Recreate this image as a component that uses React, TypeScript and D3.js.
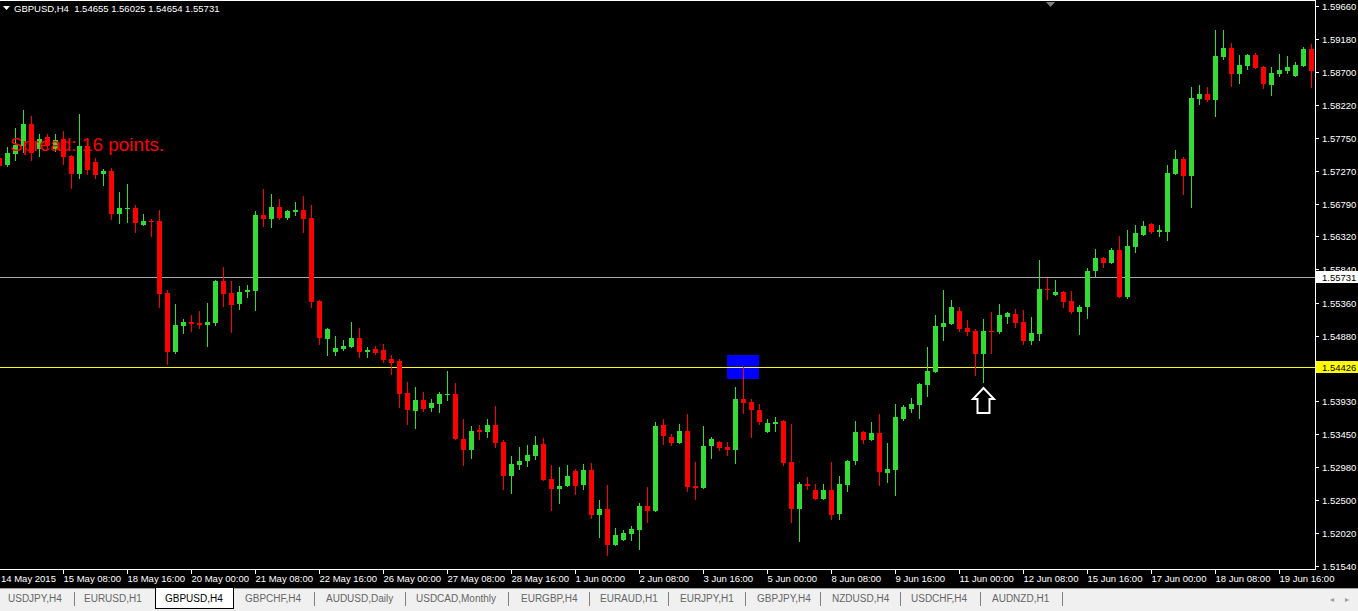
import React, { useEffect } from "react";
import * as d3 from "d3";

// ---- DATA (GBPUSD, H4) ----
const opens = [1.57457,1.57355,1.57515,1.57631,1.57950,1.57587,1.57761,1.57587,1.57732,1.57486,1.57225,1.57631,1.57399,1.57225,1.57268,1.56645,1.56717,1.56732,1.56485,1.56543,1.56543,1.55499,1.54644,1.55021,1.55079,1.55064,1.55035,1.55064,1.55673,1.55499,1.55340,1.55514,1.55528,1.56630,1.56572,1.56746,1.56587,1.56674,1.56703,1.56587,1.55383,1.54832,1.54644,1.54687,1.54716,1.54847,1.54644,1.54687,1.54673,1.54542,1.54513,1.54049,1.53788,1.53948,1.53832,1.53890,1.54020,1.54035,1.53382,1.53223,1.53513,1.53484,1.53585,1.53339,1.52846,1.53005,1.53063,1.53136,1.53310,1.52802,1.52657,1.52701,1.52918,1.52715,1.52933,1.52280,1.52367,1.51845,1.51918,1.52005,1.52063,1.52411,1.52338,1.53585,1.53411,1.53324,1.53498,1.52701,1.52672,1.53281,1.53339,1.53266,1.53223,1.53962,1.53919,1.53803,1.53484,1.53600,1.53643,1.53049,1.52367,1.52730,1.52643,1.52513,1.52643,1.52295,1.52715,1.53063,1.53484,1.53368,1.53469,1.52889,1.52933,1.53672,1.53817,1.53875,1.54165,1.54354,1.55006,1.55050,1.55238,1.54992,1.54948,1.54615,1.54948,1.54934,1.55151,1.55195,1.55079,1.54803,1.54905,1.55557,1.55470,1.55514,1.55383,1.55224,1.55296,1.55818,1.56007,1.55934,1.56123,1.55441,1.56166,1.56341,1.56500,1.56384,1.56384,1.57225,1.57442,1.57196,1.58312,1.58385,1.58298,1.58921,1.59052,1.58675,1.58791,1.58950,1.58776,1.58515,1.58675,1.58718,1.58646,1.58791,1.59037];
const highs = [1.57573,1.57616,1.57892,1.58153,1.58066,1.57805,1.57805,1.57805,1.57848,1.57500,1.58095,1.57645,1.57457,1.57297,1.57312,1.56964,1.57080,1.56775,1.56645,1.56572,1.56703,1.55543,1.55340,1.55122,1.55180,1.55238,1.55354,1.55688,1.55876,1.55673,1.55601,1.55615,1.56688,1.57007,1.56935,1.56862,1.56703,1.56819,1.56906,1.56775,1.55398,1.54992,1.54876,1.54818,1.55079,1.54992,1.54716,1.54731,1.54760,1.54600,1.54542,1.54209,1.54136,1.54064,1.53962,1.54064,1.54368,1.54194,1.53672,1.53571,1.53585,1.53672,1.53861,1.53368,1.53136,1.53266,1.53295,1.53426,1.53397,1.53005,1.52976,1.53005,1.52947,1.53020,1.53034,1.52498,1.52715,1.52092,1.52063,1.52121,1.52454,1.52686,1.53629,1.53672,1.53455,1.53600,1.53745,1.53049,1.53571,1.53411,1.53353,1.53339,1.54136,1.54426,1.53962,1.53890,1.53672,1.53701,1.53658,1.53600,1.52759,1.52831,1.52730,1.52730,1.53049,1.52846,1.53078,1.53643,1.53498,1.53629,1.53745,1.53324,1.53890,1.53875,1.53977,1.54194,1.54716,1.55180,1.55543,1.55398,1.55296,1.55108,1.54977,1.55122,1.55224,1.55340,1.55224,1.55267,1.55253,1.55151,1.55978,1.55717,1.55688,1.55528,1.55528,1.55325,1.55862,1.56137,1.56021,1.56152,1.56326,1.56413,1.56485,1.56543,1.56514,1.56485,1.57355,1.57573,1.57471,1.58486,1.58515,1.58486,1.59313,1.59313,1.59124,1.58950,1.58965,1.58979,1.58791,1.58776,1.58965,1.58936,1.58849,1.59066,1.59110];
const lows = [1.57312,1.57326,1.57413,1.57529,1.57413,1.57471,1.57573,1.57544,1.57355,1.57007,1.57152,1.57210,1.57152,1.57051,1.56558,1.56500,1.56514,1.56369,1.56471,1.56311,1.55282,1.54455,1.54615,1.54905,1.54934,1.54977,1.54716,1.55021,1.55296,1.54919,1.55253,1.55427,1.55238,1.56456,1.56442,1.56558,1.56558,1.56616,1.56369,1.55282,1.54745,1.54586,1.54586,1.54658,1.54702,1.54557,1.54557,1.54600,1.54484,1.54310,1.53832,1.53585,1.53527,1.53774,1.53774,1.53759,1.53933,1.53368,1.52991,1.53092,1.53368,1.53397,1.53252,1.52643,1.52585,1.52933,1.52976,1.53078,1.52773,1.52338,1.52440,1.52686,1.52571,1.52643,1.52222,1.51947,1.51686,1.51831,1.51903,1.51903,1.51773,1.52164,1.52324,1.53295,1.53281,1.53310,1.52614,1.52498,1.52657,1.53092,1.53208,1.53136,1.53020,1.53745,1.53397,1.53585,1.53469,1.53484,1.52991,1.52164,1.51889,1.52643,1.52498,1.52498,1.52208,1.52208,1.52614,1.53005,1.53310,1.53353,1.52701,1.52744,1.52556,1.53643,1.53759,1.53672,1.53991,1.54339,1.54803,1.55035,1.54934,1.54876,1.54296,1.54194,1.54615,1.54905,1.55050,1.54992,1.54745,1.54745,1.54803,1.55398,1.55456,1.55282,1.55195,1.54883,1.55122,1.55731,1.55862,1.55920,1.55427,1.55412,1.56079,1.56326,1.56355,1.56311,1.56253,1.57210,1.56920,1.56732,1.58225,1.58269,1.58051,1.58878,1.58486,1.58530,1.58733,1.58748,1.58457,1.58356,1.58631,1.58675,1.58631,1.58776,1.58472];
const closes = [1.57341,1.57529,1.57645,1.57950,1.57529,1.57732,1.57645,1.57718,1.57471,1.57225,1.57631,1.57283,1.57210,1.57268,1.56645,1.56732,1.56732,1.56514,1.56543,1.56529,1.55485,1.54644,1.55035,1.55079,1.55050,1.55035,1.55079,1.55673,1.55485,1.55325,1.55514,1.55543,1.56630,1.56572,1.56746,1.56587,1.56688,1.56703,1.56572,1.55369,1.54847,1.54977,1.54702,1.54731,1.54847,1.54644,1.54673,1.54629,1.54528,1.54484,1.54035,1.53803,1.53948,1.53817,1.53904,1.54035,1.54035,1.53382,1.53223,1.53498,1.53484,1.53585,1.53324,1.52846,1.53020,1.53063,1.53150,1.53295,1.52788,1.52657,1.52701,1.52846,1.52701,1.52933,1.52280,1.52367,1.51845,1.51990,1.52019,1.52077,1.52411,1.52338,1.53571,1.53426,1.53324,1.53498,1.52686,1.52672,1.53281,1.53382,1.53252,1.53223,1.53962,1.53904,1.53803,1.53629,1.53614,1.53629,1.53034,1.52367,1.52730,1.52701,1.52513,1.52643,1.52280,1.52730,1.53063,1.53484,1.53368,1.53469,1.52904,1.52947,1.53701,1.53846,1.53890,1.54180,1.54368,1.55021,1.55064,1.55296,1.54977,1.54934,1.54615,1.54948,1.54934,1.55180,1.55209,1.55064,1.54803,1.54919,1.55557,1.55543,1.55514,1.55369,1.55224,1.55296,1.55818,1.56007,1.55934,1.56123,1.55441,1.56181,1.56369,1.56471,1.56384,1.56413,1.57239,1.57442,1.57196,1.58327,1.58385,1.58298,1.58936,1.59052,1.58675,1.58805,1.58950,1.58762,1.58530,1.58689,1.58733,1.58776,1.58805,1.59037,1.58718];

const priceTicks = [1.5966, 1.5918, 1.587, 1.5822, 1.5775, 1.5727, 1.5679, 1.5632, 1.5584, 1.5536, 1.5488, 1.5393, 1.5345, 1.5298, 1.525, 1.5202, 1.5154];
const timeTickIdx = [0, 8, 16, 24, 32, 40, 48, 56, 64, 72, 80, 88, 96, 104, 112, 120, 128, 136, 144, 152, 160];
const timeTickLabels = ["14 May 2015", "15 May 08:00", "18 May 16:00", "20 May 00:00", "21 May 08:00", "22 May 16:00", "26 May 00:00", "27 May 08:00", "28 May 16:00", "1 Jun 00:00", "2 Jun 08:00", "3 Jun 16:00", "5 Jun 00:00", "8 Jun 08:00", "9 Jun 16:00", "11 Jun 00:00", "12 Jun 08:00", "15 Jun 16:00", "17 Jun 00:00", "18 Jun 08:00", "19 Jun 16:00"];
const hLineGrey = 1.55731;
const hLineYellow = 1.54426;
const zoneBar = [91, 95];
const zonePrice = [1.54254, 1.54602];
const arrowBar = 123;
const arrowPrice = 1.54116;
const tabs = ["USDJPY,H4", "EURUSD,H1", "GBPUSD,H4", "GBPCHF,H4", "AUDUSD,Daily", "USDCAD,Monthly", "EURGBP,H4", "EURAUD,H1", "EURJPY,H1", "GBPJPY,H4", "NZDUSD,H4", "USDCHF,H4", "AUDNZD,H1"];
const tabX = [8, 84, 165, 245, 326, 416, 521, 600, 680, 757, 832, 911, 992];
const sepX = [74, 314, 405, 508, 589, 668, 745, 820, 900, 980, 1062];
const headerText = "GBPUSD,H4  1.54655 1.56025 1.54654 1.55731";

const W = 1358;
const H = 611;
const AXIS_X = 1315;
const BOTTOM = 569;
const FONT = "'Liberation Sans', Arial, sans-serif";

export default function App() {
  useEffect(() => {
    document.body.style.margin = "0";
    document.body.style.background = "#000";
  }, []);

  const n = opens.length;
  const x = d3.scaleLinear().domain([0, n - 1]).range([-1, -1 + 8 * (n - 1)]);
  const y = d3.scaleLinear().domain([1.51555, 1.596895]).range([565, 4]);
  const G = "#32dc32";
  const R = "#ff0000";

  const candles = d3.range(n).map((i) => {
    const cx = Math.round(x(i));
    const o = Math.round(y(opens[i]));
    const c = Math.round(y(closes[i]));
    const h = Math.round(y(highs[i]));
    const l = Math.round(y(lows[i]));
    const up = closes[i] >= opens[i];
    const col = up ? G : R;
    const top = Math.min(o, c);
    const bh = Math.max(1, Math.abs(o - c));
    return (
      <g key={i}>
        <rect x={cx} y={h} width={1} height={Math.max(1, l - h)} fill={col} />
        <rect x={cx - 2} y={top} width={5} height={bh} fill={col} />
      </g>
    );
  });

  const yg = Math.round(y(hLineGrey)) + 0.5;
  const yy = Math.round(y(hLineYellow)) + 0.5;
  const ax = x(arrowBar) + 0.5;
  const ay = Math.round(y(arrowPrice));
  const arrowPath = `M${ax},${ay} L${ax + 10.5},${ay + 11} L${ax + 6},${ay + 11} L${ax + 6},${ay + 25} L${ax - 6},${ay + 25} L${ax - 6},${ay + 11} L${ax - 10.5},${ay + 11} Z`;

  return (
    <svg width={W} height={H} style={{ position: "fixed", left: 0, top: 0, display: "block" }} fontFamily={FONT} shapeRendering="crispEdges">
      <rect x={0} y={0} width={W} height={H} fill="#000" />
      {/* frame */}
      <line x1={0} y1={0.5} x2={AXIS_X} y2={0.5} stroke="#fff" />
      <line x1={AXIS_X + 0.5} y1={0} x2={AXIS_X + 0.5} y2={BOTTOM + 1} stroke="#fff" />
      <line x1={0} y1={BOTTOM + 0.5} x2={AXIS_X + 1} y2={BOTTOM + 0.5} stroke="#fff" />

      {/* zone rectangle */}
      <rect x={Math.round(x(zoneBar[0]))} y={Math.round(y(zonePrice[1]))} width={Math.round(x(zoneBar[1]) - x(zoneBar[0]))} height={Math.round(y(zonePrice[0]) - y(zonePrice[1]))} fill="#0000ff" />

      {/* horizontal lines */}
      <line x1={0} y1={yg} x2={AXIS_X} y2={yg} stroke="#a8a8a8" />
      <line x1={0} y1={yy} x2={AXIS_X} y2={yy} stroke="#ffff00" />

      {candles}

      {/* arrow */}
      <path d={arrowPath} fill="#000" stroke="#fff" strokeWidth={2} shapeRendering="auto" />

      {/* spread text */}
      <text x={10} y={151} fill="#ff0000" fontSize={19}>Spread: 16 points.</text>

      {/* header */}
      <path d="M3,6 L10,6 L6.5,10 Z" fill="#fff" shapeRendering="auto" />
      <text x={14} y={12} fill="#fff" fontSize={9.5} style={{ whiteSpace: "pre" }}>{headerText}</text>
      <path d="M1046,2 L1055,2 L1050.5,7 Z" fill="#808080" shapeRendering="auto" />

      {/* price axis */}
      {priceTicks.map((v) => {
        const py = Math.round(y(v)) + 0.5;
        return (
          <g key={v}>
            <line x1={AXIS_X} y1={py} x2={AXIS_X + 4} y2={py} stroke="#fff" />
            <text x={1322} y={py + 3.5} fill="#fff" fontSize={9.5}>{v.toFixed(5)}</text>
          </g>
        );
      })}
      <rect x={AXIS_X + 1} y={yg - 6.5} width={W - AXIS_X - 1} height={12} fill="#fff" />
      <text x={1322} y={yg + 3.5} fill="#000" fontSize={9.5}>{hLineGrey.toFixed(5)}</text>
      <rect x={AXIS_X + 1} y={yy - 6.5} width={W - AXIS_X - 1} height={12} fill="#ffff00" />
      <text x={1322} y={yy + 3.5} fill="#000" fontSize={9.5}>{hLineYellow.toFixed(5)}</text>

      {/* time axis */}
      {timeTickIdx.map((i, k) => {
        const tx = Math.round(x(i)) + 0.5;
        return (
          <g key={i}>
            <line x1={tx} y1={BOTTOM} x2={tx} y2={BOTTOM + 5} stroke="#fff" />
            <text x={Math.max(1, tx)} y={582} fill="#fff" fontSize={9.5}>{timeTickLabels[k]}</text>
          </g>
        );
      })}

      {/* tab bar */}
      <rect x={0} y={588} width={W} height={H - 588} fill="#f0f0f0" />
      <line x1={0} y1={588.5} x2={W} y2={588.5} stroke="#a0a0a0" />
      <rect x={155.5} y={587.5} width={78} height={21} fill="#fff" stroke="#000" />
      {sepX.map((sx) => (
        <line key={sx} x1={sx + 0.5} y1={592} x2={sx + 0.5} y2={606} stroke="#808080" />
      ))}
      {tabs.map((t, k) => (
        <text key={t} x={tabX[k]} y={602} fill={k === 2 ? "#000" : "#666"} fontSize={10}>{t}</text>
      ))}
      <text x={1330} y={602} fill="#999" fontSize={8}>◂</text>
      <text x={1345} y={602} fill="#999" fontSize={8}>▸</text>
    </svg>
  );
}
